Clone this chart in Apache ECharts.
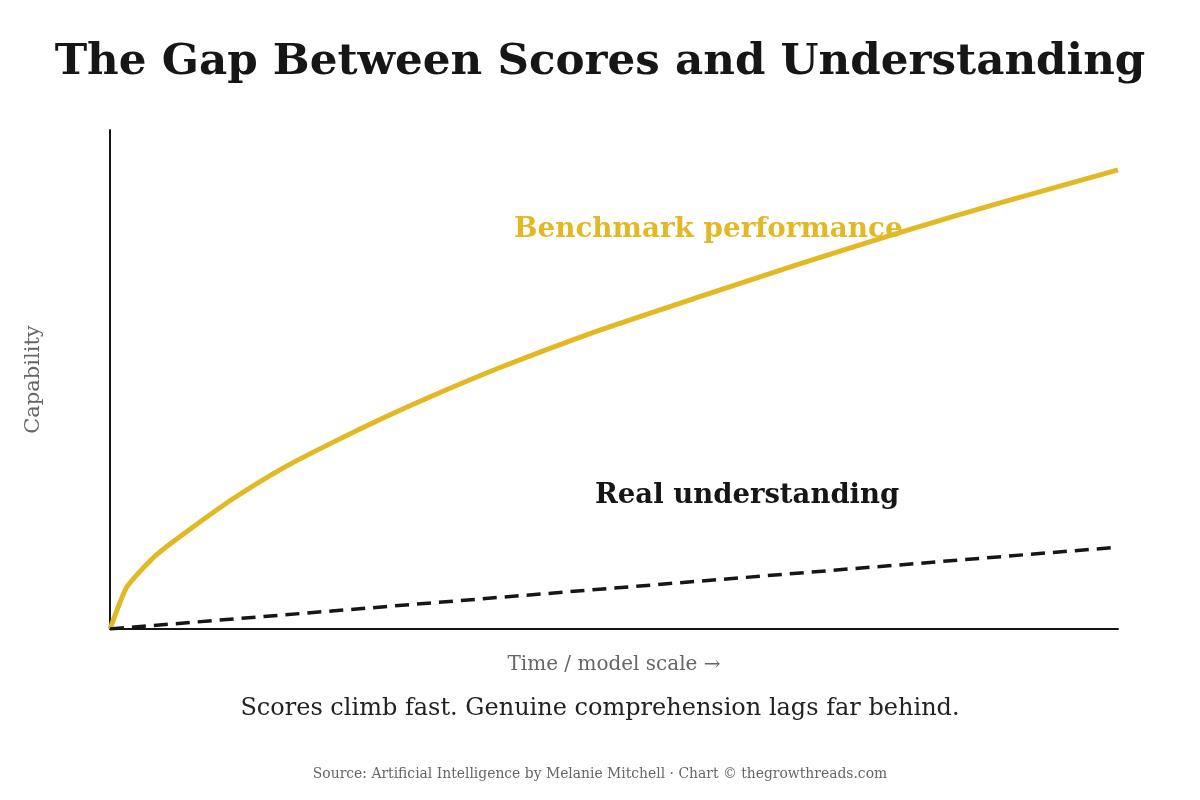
<!DOCTYPE html>
<html>
<head>
<meta charset="utf-8">
<style>
  html, body { margin: 0; padding: 0; background: #fff; }
  #chart { width: 1200px; height: 800px; }
</style>
<script src="https://cdn.jsdelivr.net/npm/echarts@6/dist/echarts.min.js"></script>
</head>
<body>
<div id="chart"></div>
<script>
// benchmark curve (x = time/scale 0..100, y = capability 0..100)
var benchX = [0, 1.6, 3.1, 4.8, 7.8, 12.2, 17.2, 22.1, 27.1, 31.5, 38.7, 48.6, 58.5, 68.5, 78.4, 88.3, 100];
var benchY = [0, 8.2, 11.8, 15.2, 19.8, 26.1, 32.3, 37.4, 42.3, 46.3, 52.4, 59.9, 66.6, 73.2, 79.5, 85.4, 92];
// real understanding, a straight dashed line
var realX = [0, 100];
var realY = [0, 16.4];

var gold = '#E2B824';
var ink = '#161616';
var serif = '"DejaVu Serif", Georgia, serif';

function pairs(xs, ys) {
    var out = [];
    for (var i = 0; i < xs.length; i++) out.push([xs[i], ys[i]]);
    return out;
}

var myChart = echarts.init(document.getElementById('chart'));
var option = {
    backgroundColor: '#fff',
    animation: false,
    title: [{
        text: 'The Gap Between Scores and Understanding',
        left: 'center',
        top: 36,
        textStyle: { fontFamily: serif, fontWeight: 'bold', fontSize: 43.6, color: ink }
    }, {
        text: 'Scores climb fast. Genuine comprehension lags far behind.',
        left: 'center',
        top: 692,
        textStyle: { fontFamily: serif, fontWeight: 'normal', fontSize: 24, color: '#222' }
    }, {
        text: 'Source: Artificial Intelligence by Melanie Mitchell · Chart © thegrowthreads.com',
        left: 'center',
        top: 762,
        textStyle: { fontFamily: serif, fontWeight: 'normal', fontSize: 13.9, color: '#666' }
    }],
    grid: { left: 110, right: 82, top: 130, bottom: 171 },
    xAxis: {
        type: 'value',
        min: 0,
        max: 100,
        name: 'Time / model scale →',
        nameLocation: 'middle',
        nameGap: 26,
        nameTextStyle: { fontFamily: serif, fontSize: 20, color: '#666' },
        axisLine: { show: true, lineStyle: { color: ink, width: 2 } },
        axisTick: { show: false },
        axisLabel: { show: false },
        splitLine: { show: false }
    },
    yAxis: {
        type: 'value',
        min: 0,
        max: 100,
        name: 'Capability',
        nameLocation: 'middle',
        nameGap: 66,
        nameTextStyle: { fontFamily: serif, fontSize: 21, color: '#666' },
        axisLine: { show: true, lineStyle: { color: ink, width: 2 } },
        axisTick: { show: false },
        axisLabel: { show: false },
        splitLine: { show: false }
    },
    series: [{
        name: 'Benchmark performance',
        type: 'line',
        data: pairs(benchX, benchY),
        symbol: 'none',
        smooth: 0.2,
        lineStyle: { color: gold, width: 5, join: 'round' },
        z: 3
    }, {
        name: 'Real understanding',
        type: 'line',
        data: pairs(realX, realY),
        symbol: 'none',
        lineStyle: { color: ink, width: 3.5, type: [14, 8] },
        z: 4
    }],
    graphic: [{
        type: 'text',
        left: 514,
        top: 216,
        z: 2,
        style: {
            text: 'Benchmark performance',
            font: 'bold 27.8px ' + serif,
            fill: gold
        }
    }, {
        type: 'text',
        left: 595,
        top: 482,
        style: {
            text: 'Real understanding',
            font: 'bold 27.5px ' + serif,
            fill: ink
        }
    }]
};
myChart.setOption(option);
</script>
</body>
</html>
